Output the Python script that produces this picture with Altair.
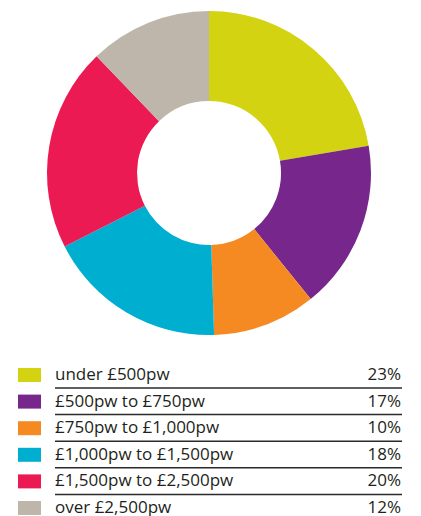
import altair as alt
import pandas as pd

categories = ["under £500pw", "£500pw to £750pw", "£750pw to £1,000pw",
              "£1,000pw to £1,500pw", "£1,500pw to £2,500pw", "over £2,500pw"]
values = [22.3, 16.9, 10.3, 18.0, 20.3, 12.2]
labels = ["23%", "17%", "10%", "18%", "20%", "12%"]
palette = ["#d4d311", "#77278b", "#f58a22", "#00aecf", "#ec1a52", "#bfb6ab"]

df = pd.DataFrame({
    "cat": categories,
    "val": values,
    "lab": labels,
    "idx": list(range(len(categories))),
})

color = alt.Color("cat:N", scale=alt.Scale(domain=categories, range=palette), legend=None)
yrow = alt.Y("cat:N", scale=alt.Scale(type="point", domain=categories, range=[375, 508], padding=0), axis=None)

base = alt.Chart(df)

donut = base.mark_arc(outerRadius=162, innerRadius=72).encode(
    theta=alt.Theta("val:Q", stack=True),
    color=color,
    order=alt.Order("idx:Q"),
    x=alt.value(209),
    y=alt.value(173),
)

h = 14 / 23
swatch = base.mark_point(
    shape=f"M-1,-{h:.4f}L1,-{h:.4f}L1,{h:.4f}L-1,{h:.4f}Z",
    filled=True, opacity=1, size=529, strokeWidth=0,
).encode(x=alt.value(29.5), y=yrow, color=color)

font = "Open Sans"
txt = base.mark_text(align="left", baseline="middle", fontSize=17, font=font, color="#231f20").encode(
    x=alt.value(55), y=yrow, text="cat:N")

pct = base.mark_text(align="right", baseline="middle", fontSize=17, font=font, color="#231f20").encode(
    x=alt.value(401), y=yrow, text="lab:N")

rules = base.transform_filter(alt.datum.idx < 5).mark_rule(
    color="#2a2a2a", strokeWidth=1.5, yOffset=13).encode(
    x=alt.value(55), x2=alt.value(402), y=yrow)

chart = alt.layer(donut, swatch, txt, pct, rules).properties(
    width=421, height=516, padding=0, autosize=alt.AutoSizeParams(type="none"),
    background="white",
).configure_view(stroke=None)

chart.save("out.html", embed_options={"renderer": "svg", "actions": False})
